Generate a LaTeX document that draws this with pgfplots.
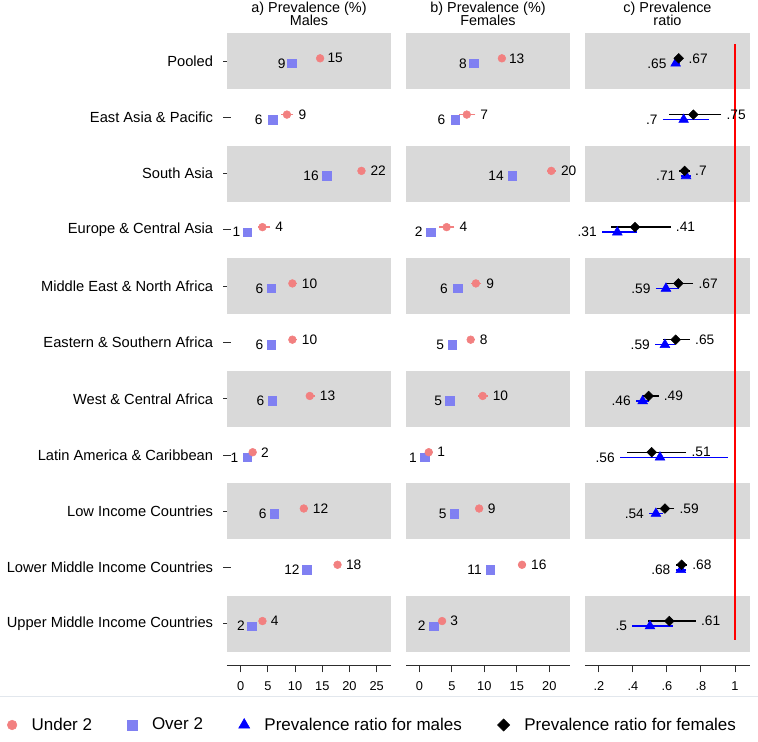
\documentclass[border=0pt]{standalone}
\usepackage{pgfplots}
\pgfplotsset{compat=1.18}
\usepackage{pgfplotstable}
\usepackage{fontspec}
\setmainfont{Liberation Sans}
\definecolor{band}{RGB}{217,217,217}
\definecolor{under}{RGB}{242,128,128}
\definecolor{over}{RGB}{128,128,242}
\definecolor{pblue}{RGB}{0,0,255}
\definecolor{axc}{RGB}{45,45,45}
\definecolor{sepline}{RGB}{226,231,237}
\newcommand{\vfont}{\fontsize{10.3}{12}\selectfont}
\newcommand{\tfont}{\fontsize{9.6}{11}\selectfont}
\newcommand{\rfont}{\fontsize{11}{13}\selectfont}

% panel a: males
\pgfplotstableread{
r sq sqlo sqhi ci cilo cihi lsq lci
1 9.4 9.2 9.6 14.6 14.2 15.0 9 15
2 5.9 5.0 6.7 8.5 7.4 9.7 6 9
3 15.8 15.3 16.3 22.2 21.5 22.9 16 22
4 1.2 0.9 1.5 4.0 3.1 5.4 1 4
5 5.6 5.1 6.1 9.5 8.9 10.3 6 10
6 5.6 5.1 6.1 9.5 8.9 10.3 6 10
7 5.8 5.3 6.3 12.7 12.0 13.6 6 13
8 1.2 0.5 1.9 2.2 1.7 2.8 1 2
9 6.2 5.7 6.7 11.6 11.0 12.3 6 12
10 12.1 11.8 12.4 17.8 17.3 18.4 12 18
11 2.0 1.7 2.3 4.0 3.5 4.6 2 4
}\males
% panel b: females
\pgfplotstableread{
r sq sqlo sqhi ci cilo cihi lsq lci
1 8.4 8.1 8.7 12.7 12.4 13.0 8 13
2 5.5 4.8 6.2 7.3 6.1 8.6 6 7
3 14.3 13.8 14.8 20.3 19.6 21.0 14 20
4 1.75 1.3 2.2 4.2 3.1 5.4 2 4
5 5.9 5.2 6.6 8.7 7.9 9.5 6 9
6 5.1 4.6 5.6 7.9 7.3 8.5 5 8
7 4.7 4.3 5.1 9.75 9.0 10.5 5 10
8 0.8 0.4 1.2 1.45 0.95 1.95 1 1
9 5.4 5.0 5.8 9.2 8.65 9.75 5 9
10 10.9 10.4 11.4 15.8 15.2 16.4 11 16
11 2.2 1.75 2.65 3.5 3.05 3.95 2 3
}\females
% panel c: prevalence ratio
\pgfplotstableread{
r tri trilo trihi dia dialo diahi ltri ldia
1 0.651 0.628 0.674 0.669 0.642 0.696 .65 .67
2 0.698 0.575 0.845 0.755 0.614 0.920 .7 .75
3 0.712 0.680 0.744 0.704 0.673 0.735 .71 .7
4 0.308 0.218 0.425 0.412 0.270 0.622 .31 .41
5 0.594 0.534 0.669 0.667 0.594 0.755 .59 .67
6 0.588 0.530 0.647 0.651 0.575 0.735 .59 .65
7 0.457 0.418 0.496 0.492 0.451 0.551 .46 .49
8 0.559 0.324 0.957 0.510 0.363 0.714 .56 .51
9 0.535 0.495 0.575 0.588 0.539 0.643 .54 .59
10 0.682 0.651 0.713 0.686 0.654 0.718 .68 .68
11 0.500 0.396 0.637 0.614 0.490 0.770 .5 .61
}\ratio

\newcommand{\bands}{%
\fill[band] (axis cs:\pgfkeysvalueof{/pgfplots/xmin},0.5) rectangle (axis cs:\pgfkeysvalueof{/pgfplots/xmax},1.5);
\fill[band] (axis cs:\pgfkeysvalueof{/pgfplots/xmin},2.5) rectangle (axis cs:\pgfkeysvalueof{/pgfplots/xmax},3.5);
\fill[band] (axis cs:\pgfkeysvalueof{/pgfplots/xmin},4.5) rectangle (axis cs:\pgfkeysvalueof{/pgfplots/xmax},5.5);
\fill[band] (axis cs:\pgfkeysvalueof{/pgfplots/xmin},6.5) rectangle (axis cs:\pgfkeysvalueof{/pgfplots/xmax},7.5);
\fill[band] (axis cs:\pgfkeysvalueof{/pgfplots/xmin},8.5) rectangle (axis cs:\pgfkeysvalueof{/pgfplots/xmax},9.5);
\fill[band] (axis cs:\pgfkeysvalueof{/pgfplots/xmin},10.5) rectangle (axis cs:\pgfkeysvalueof{/pgfplots/xmax},11.5);
}

\pgfplotsset{
  panel/.style={scale only axis, height=464.25pt, anchor=south west,
    ymin=0.5, ymax=11.5, y dir=reverse, clip=false, enlargelimits=false,
    axis x line=bottom, axis x line shift=9.75pt, xtick pos=bottom,
    x axis line style={axc, line width=0.75pt, -},
    tick align=outside, major tick length=5.5pt,
    xtick style={axc, line width=0.75pt},
    ytick style={axc, line width=0.75pt},
    xticklabel style={font=\tfont, inner sep=0pt, yshift=-7pt},
    /pgf/number format/assume math mode=true,
    every axis title/.style={at={(0.5,1)}, anchor=south, align=center, inner sep=0pt, yshift=5.5pt, font=\fontsize{10.8}{12}\selectfont},
  },
  labL/.style={forget plot, only marks, mark=*, mark size=0pt, mark options={draw=none, fill=none},
    nodes near coords, point meta=explicit symbolic,
    every node near coord/.append style={anchor=east, inner sep=0pt, xshift=-3.75pt, font=\vfont, text=black}},
  labR/.style={forget plot, only marks, mark=*, mark size=0pt, mark options={draw=none, fill=none},
    nodes near coords, point meta=explicit symbolic,
    every node near coord/.append style={anchor=west, inner sep=0pt, xshift=3.75pt, font=\vfont, text=black}},
}

\begin{document}
\begin{tikzpicture}
\path[use as bounding box] (0,0) rectangle (568.5pt,556.5pt);
\draw[sepline, line width=0.75pt] (0,33.75pt) -- (568.5pt,33.75pt);

% ---------------- panel a
\begin{axis}[panel, at={(170.25pt,67.5pt)}, width=123pt,
  xmin=-2.52, xmax=27.63,
  xtick={0,5,10,15,20,25}, xticklabels={0,5,10,15,20,25},
  title={a) Prevalence (\%)\\[-2.5pt]Males},
  axis y line=left, ytick pos=left, y axis line style={draw=none},
  ytick={1,2,3,4,5,6,7,8,9,10,11},
  yticklabels={Pooled, East Asia \& Pacific, South Asia, Europe \& Central Asia, Middle East \& North Africa, Eastern \& Southern Africa, West \& Central Africa, Latin America \& Caribbean, Low Income Countries, Lower Middle Income Countries, Upper Middle Income Countries},
  yticklabel style={font=\rfont, inner sep=0pt, xshift=-7.5pt},
]
\bands
\addplot[forget plot, only marks, mark=square*, mark size=3.2pt, color=over,
  error bars/.cd, x dir=both, x explicit, error mark=none, error bar style={over, line width=1.1pt}]
  table[x=sq, y expr=\thisrow{r}+0.04, x error minus expr=\thisrow{sq}-\thisrow{sqlo}, x error plus expr=\thisrow{sqhi}-\thisrow{sq}] {\males};
\addplot[forget plot, only marks, mark=*, mark size=2.9pt, color=under,
  error bars/.cd, x dir=both, x explicit, error mark=none, error bar style={under, line width=1.1pt}]
  table[x=ci, y expr=\thisrow{r}-0.05, x error minus expr=\thisrow{ci}-\thisrow{cilo}, x error plus expr=\thisrow{cihi}-\thisrow{ci}] {\males};
\addplot[labL] table[x=sqlo, y expr=\thisrow{r}+0.04, meta=lsq] {\males};
\addplot[labR] table[x=cihi, y expr=\thisrow{r}-0.05, meta=lci] {\males};
\end{axis}

% ---------------- panel b
\begin{axis}[panel, at={(304.5pt,67.5pt)}, width=123pt,
  xmin=-2.05, xmax=23.18,
  xtick={0,5,10,15,20}, xticklabels={0,5,10,15,20},
  title={b) Prevalence (\%)\\[-2.5pt]Females},
  axis y line=none, ytick=\empty,
]
\bands
\addplot[forget plot, only marks, mark=square*, mark size=3.2pt, color=over,
  error bars/.cd, x dir=both, x explicit, error mark=none, error bar style={over, line width=1.1pt}]
  table[x=sq, y expr=\thisrow{r}+0.04, x error minus expr=\thisrow{sq}-\thisrow{sqlo}, x error plus expr=\thisrow{sqhi}-\thisrow{sq}] {\females};
\addplot[forget plot, only marks, mark=*, mark size=2.9pt, color=under,
  error bars/.cd, x dir=both, x explicit, error mark=none, error bar style={under, line width=1.1pt}]
  table[x=ci, y expr=\thisrow{r}-0.05, x error minus expr=\thisrow{ci}-\thisrow{cilo}, x error plus expr=\thisrow{cihi}-\thisrow{ci}] {\females};
\addplot[labL] table[x=sqlo, y expr=\thisrow{r}+0.04, meta=lsq] {\females};
\addplot[labR] table[x=cihi, y expr=\thisrow{r}-0.05, meta=lci] {\females};
\end{axis}

% ---------------- panel c
\begin{axis}[panel, at={(438.75pt,67.5pt)}, width=123.75pt,
  xmin=0.118, xmax=1.088,
  xtick={0.2,0.4,0.6,0.8,1}, xticklabels={.2,.4,.6,.8,1},
  title={c) Prevalence\\[-2.5pt]ratio},
  axis y line=none, ytick=\empty,
  legend columns=4, legend cell align=left,
  legend image code/.code={\draw[mark repeat=2, mark phase=2, #1] plot coordinates {(0pt,0pt) (8pt,0pt) (16pt,0pt)};},
  legend style={at={(-3.503,-0.1179)}, anchor=west, draw=none, fill=none, inner xsep=0pt, inner ysep=0pt,
    font=\fontsize{12.75}{15}\selectfont,
    /tikz/column 1/.style={column sep=9pt},
    /tikz/column 3/.style={column sep=9pt},
    /tikz/column 5/.style={column sep=9pt},
    /tikz/column 7/.style={column sep=9pt},
    /tikz/column 2/.style={column sep=24.75pt},
    /tikz/column 4/.style={column sep=24.75pt},
    /tikz/column 6/.style={column sep=24.75pt}},
]
\bands
\addplot[forget plot, red, line width=0.8pt] coordinates {(1,0.7) (1,11.28)};
\addplot[forget plot, only marks, mark=triangle*, mark size=4.2pt, color=pblue,
  error bars/.cd, x dir=both, x explicit, error mark=none, error bar style={pblue, line width=1.1pt}]
  table[x=tri, y expr=\thisrow{r}+0.04, x error minus expr=\thisrow{tri}-\thisrow{trilo}, x error plus expr=\thisrow{trihi}-\thisrow{tri}] {\ratio};
\addplot[forget plot, only marks, mark=square*, mark size=2.55pt, mark options={rotate=45}, color=black,
  error bars/.cd, x dir=both, x explicit, error mark=none, error bar style={black, line width=1.1pt}]
  table[x=dia, y expr=\thisrow{r}-0.05, x error minus expr=\thisrow{dia}-\thisrow{dialo}, x error plus expr=\thisrow{diahi}-\thisrow{dia}] {\ratio};
\addplot[labL] table[x=trilo, y expr=\thisrow{r}+0.04, meta=ltri] {\ratio};
\addplot[labR] table[x=diahi, y expr=\thisrow{r}-0.05, meta=ldia] {\ratio};
\addlegendimage{only marks, mark=*, mark size=3.6pt, color=under}
\addlegendentry{Under 2}
\addlegendimage{only marks, mark=square*, mark size=3.6pt, color=over}
\addlegendentry{Over 2}
\addlegendimage{only marks, mark=triangle*, mark size=4.8pt, color=pblue}
\addlegendentry{Prevalence ratio for males}
\addlegendimage{only marks, mark=square*, mark size=3.2pt, mark options={rotate=45}, color=black}
\addlegendentry{Prevalence ratio for females}
\end{axis}
\end{tikzpicture}
\end{document}
